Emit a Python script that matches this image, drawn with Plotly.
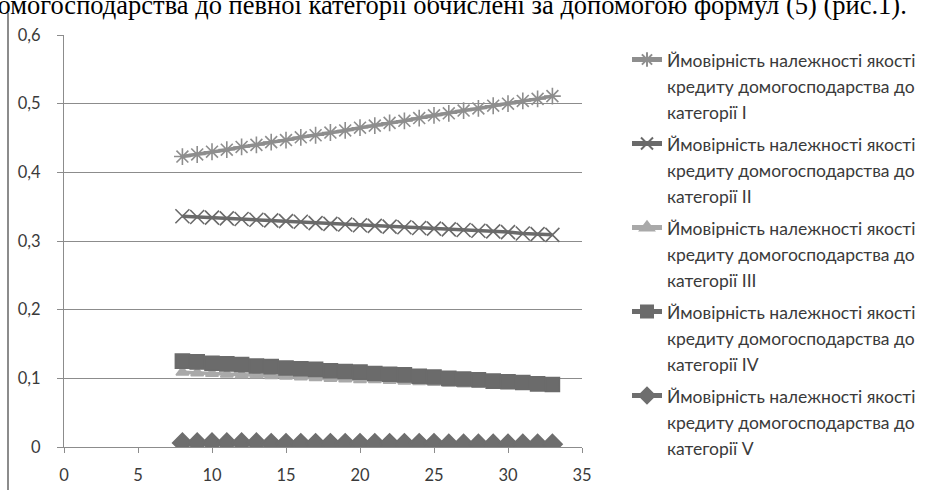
import plotly.graph_objects as go

# Кількість (x) для кожної точки
x_vals = list(range(8, 34))

p_cat1 = [0.423, 0.426, 0.430, 0.433, 0.437, 0.440, 0.444, 0.447, 0.451, 0.454,
          0.458, 0.461, 0.465, 0.468, 0.472, 0.475, 0.479, 0.483, 0.486, 0.490,
          0.493, 0.497, 0.500, 0.504, 0.507, 0.511]
p_cat2 = [0.336, 0.335, 0.334, 0.333, 0.332, 0.331, 0.330, 0.329, 0.328, 0.326,
          0.325, 0.324, 0.323, 0.322, 0.321, 0.320, 0.319, 0.318, 0.317, 0.316,
          0.315, 0.314, 0.313, 0.311, 0.310, 0.309]
p_cat3 = [0.109, 0.108, 0.107, 0.106, 0.105, 0.105, 0.104, 0.103, 0.102, 0.101,
          0.100, 0.099, 0.098, 0.098, 0.097, 0.096, 0.095, 0.094, 0.093, 0.092,
          0.091, 0.091, 0.090, 0.089, 0.088, 0.087]
p_cat4 = [0.125, 0.124, 0.122, 0.121, 0.120, 0.118, 0.117, 0.115, 0.114, 0.113,
          0.111, 0.110, 0.109, 0.107, 0.106, 0.105, 0.103, 0.102, 0.100, 0.099,
          0.098, 0.096, 0.095, 0.094, 0.092, 0.091]
p_cat5 = [0.006, 0.006, 0.006, 0.006, 0.006, 0.006, 0.005, 0.005, 0.005, 0.005,
          0.005, 0.005, 0.005, 0.005, 0.005, 0.005, 0.005, 0.005, 0.004, 0.004,
          0.004, 0.004, 0.004, 0.004, 0.004, 0.004]

categories = ["I", "II", "III", "IV", "V"]
series_values = [p_cat1, p_cat2, p_cat3, p_cat4, p_cat5]

x_ticks = [0, 5, 10, 15, 20, 25, 30, 35]
y_ticks = [0, 0.1, 0.2, 0.3, 0.4, 0.5, 0.6]

caption = "домогосподарства до певної категорії обчислені за допомогою формул (5) (рис.1)."

styles = [
    dict(color="#8e8e8e", symbol="asterisk-open", size=14, mline="#8e8e8e"),
    dict(color="#6a6a6a", symbol="x-thin-open", size=14, mline="#858585"),
    dict(color="#a9a9a9", symbol="triangle-up", size=11, mline="#a9a9a9"),
    dict(color="#6b6b6b", symbol="square", size=14, mline="#6b6b6b"),
    dict(color="#6e6e6e", symbol="diamond", size=15, mline="#6e6e6e"),
]

FONT = "Lato, Open Sans, sans-serif"

fig = go.Figure()
for cat, vals, st in zip(categories, series_values, styles):
    name = ("<span style='font-size:17.5px'>Ймовірність належності якості<br>"
            "кредиту домогосподарства до<br>категорії " + cat + "</span>")
    fig.add_trace(go.Scatter(
        x=x_vals, y=vals, mode="lines+markers", name=name,
        legendgroup=cat,
        line=dict(color=st["color"], width=3.5),
        marker=dict(symbol=st["symbol"], size=st["size"], color=st["color"],
                    line=dict(color=st["mline"], width=1.6)),
    ))

fig.update_layout(
    width=929, height=490,
    margin=dict(l=64, r=347, t=35, b=43),
    paper_bgcolor="white", plot_bgcolor="white",
    separators=", ",
    font=dict(family=FONT, size=16, color="#3a3a3a"),
    showlegend=True,
    legend=dict(
        xref="container", yref="container",
        x=627 / 929, y=1 - 40 / 490, xanchor="left", yanchor="top",
        font=dict(family=FONT, size=20, color="#3a3a3a"),
        valign="top", traceorder="grouped", tracegroupgap=3,
        itemsizing="constant",
        bgcolor="rgba(0,0,0,0)", maxheight=470,
    ),
    xaxis=dict(
        range=[0, 35], tickvals=x_ticks, showgrid=False, zeroline=False,
        showline=True, linecolor="#8c8c8c", linewidth=1,
        ticks="outside", ticklen=5, tickcolor="#8c8c8c",
        ticklabelstandoff=8, automargin=False,
        tickfont=dict(family=FONT, size=16.5, color="#3a3a3a"),
    ),
    yaxis=dict(
        range=[0, 0.6], tickvals=y_ticks, showgrid=True, gridcolor="#8c8c8c",
        gridwidth=1, zeroline=False, showline=True, linecolor="#8c8c8c",
        ticks="outside", ticklen=6, tickcolor="#8c8c8c",
        ticklabelstandoff=13, automargin=False,
        tickfont=dict(family=FONT, size=16.5, color="#3a3a3a"),
    ),
    shapes=[dict(type="line", xref="paper", yref="paper",
                 x0=-56 / 518, x1=-56 / 518, y0=-43 / 412, y1=(447 - 13) / 412,
                 line=dict(color="#8c8c8c", width=2))],
    annotations=[dict(
        text=caption, xref="paper", yref="paper",
        x=(909 - 64) / 518, y=(447 - 22) / 412, xanchor="right", yanchor="bottom",
        showarrow=False,
        font=dict(family="Liberation Serif, Times New Roman, serif", size=26.5, color="black"),
    )],
)

fig.write_html("out.html")
